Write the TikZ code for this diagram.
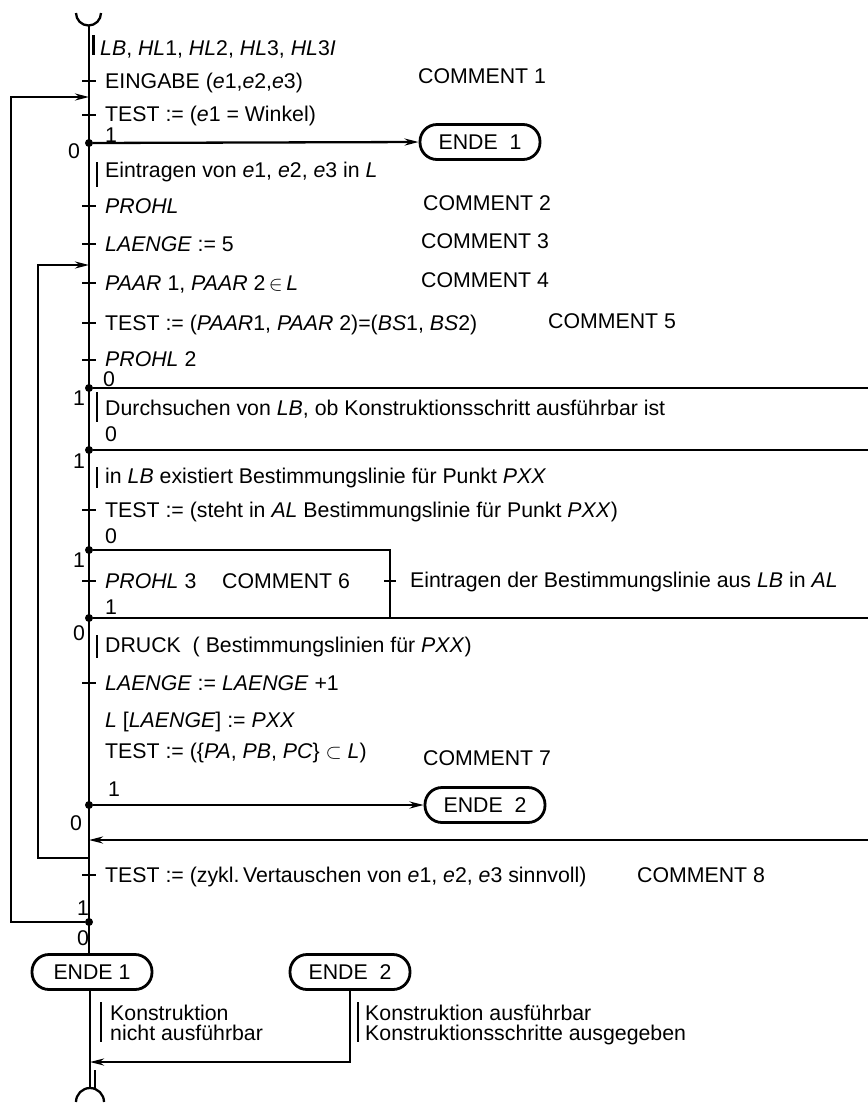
\documentclass[tikz,border=0pt]{standalone}
\usepackage{fontspec}
\setmainfont{Liberation Sans}
\usetikzlibrary{arrows.meta}
\frenchspacing
\begin{document}
\begin{tikzpicture}[x=1pt,y=-1pt,
  txt/.style={anchor=base west, inner sep=0pt, font=\fontsize{21.3}{24}\selectfont},
  flow/.style={line width=2.3pt},
  thin bar/.style={line width=2pt},
  endbox/.style={draw, line width=2.8pt, rounded corners=17pt, minimum width=120pt, minimum height=35pt, inner sep=0pt, font=\fontsize{21.3}{24}\selectfont},
  arr/.style={-{Stealth[length=14pt,width=7pt]}},
  dot/.style={circle, fill, inner sep=0pt, minimum size=8pt},
  tick/.style={line width=2pt}
]
\useasboundingbox (0,0) rectangle (868,1104);

% ---------- end nodes ----------
\node[endbox] (e1t) at (480,142) {ENDE\ \ 1};
\node[endbox] (e2t) at (485,805) {ENDE\ \ 2};
\node[endbox] (e1b) at (92,972) {ENDE\ 1};
\node[endbox] (e2b) at (350,972) {ENDE\ \ 2};

% ---------- coordinates and branch points ----------
\coordinate (top) at (89,25.5);
\coordinate (o2) at (89,97);
\coordinate (i2) at (89,265);
\node[dot] (b1) at (89,143) {};
\node[dot] (b2) at (89,388) {};
\node[dot] (b3) at (89,450) {};
\node[dot] (b4) at (89,550) {};
\node[dot] (b5) at (89,618) {};
\node[dot] (b6) at (89,805) {};
\coordinate (m7) at (89,840);
\coordinate (i1) at (89,858);
\node[dot] (b7) at (89,922) {};
\coordinate (m8) at (90,1062);
\coordinate (bot) at (90,1088);
\coordinate (r2) at (868,388);
\coordinate (r3) at (868,450);
\coordinate (r5) at (868,618);
\coordinate (r7) at (868,840);
\coordinate (bx1) at (390,550);
\coordinate (bx2) at (390,618);

% ---------- start / end symbols ----------
\draw[flow] (76,13) arc[start angle=180,end angle=360,radius=12.5pt];
\draw[flow] (76,1102) arc[start angle=180,end angle=0,radius=14pt];
\draw[flow] (93.5,35) -- (93.5,55);
\draw[flow] (95,1070) -- (95,1089);

% ---------- main line ----------
\draw[flow] (top) -- (89,955);
\draw[flow] (90,990) -- (bot);

% ---------- branches ----------
\draw[flow,arr] (b1) -- (e1t.west);
\draw[flow] (b2) -- (r2);
\draw[flow] (b3) -- (r3);
\draw[flow] (b4) -- (bx1) -- (bx2);
\draw[flow] (b5) -- (r5);
\draw[flow,arr] (b6) -- (e2t.west);
\draw[flow,arr] (r7) -- (m7);
\draw[flow,arr] (i1) -- (38,858) -- (38,265) -- (i2);
\draw[flow,arr] (b7) -- (11,922) -- (11,97) -- (o2);
\draw[flow,arr] (e2b.south) |- (m8);

% ---------- ticks ----------
\foreach \yy in {80.5,114.5,205.5,243.5,282.5,322.5,359.5,509.5,580.5,682.5,874.5}
  \draw[tick] (82,\yy) -- (96,\yy);
\draw[tick] (384,580.5) -- (396,580.5);

% ---------- bars ----------
\draw[thin bar] (97,162) -- (97,187);
\draw[thin bar] (97,392) -- (97,422);
\draw[thin bar] (97,467) -- (97,488);
\draw[thin bar] (97,635) -- (97,658);
\draw[thin bar] (101,1002) -- (101,1042);
\draw[thin bar] (358,1002) -- (358,1042);

% ---------- statements ----------
\node[txt] (s1) at (100,55) {\textit{LB}, \textit{HL}1, \textit{HL}2, \textit{HL}3, \textit{HL}3\textit{I}};
\node[txt] (s2) at (105,88) {EINGABE\ (\textit{e}1,\textit{e}2,\textit{e}3)};
\node[txt] (c1) at (418,83) {COMMENT 1};
\node[txt] (s3) at (105,121) {TEST := (\textit{e}1 = Winkel)};
\node[txt] (l1) at (105,142.5) {1};
\node[txt] (l0) at (68,158) {0};
\node[txt] (s4) at (105,177) {Eintragen von \textit{e}1, \textit{e}2, \textit{e}3 in \textit{L}};
\node[txt] (s5) at (105,213) {\textit{PROHL}};
\node[txt] (c2) at (423,210) {COMMENT 2};
\node[txt] (s6) at (105,251) {\textit{LAENGE}\ := 5};
\node[txt] (c3) at (421,248) {COMMENT 3};
\node[txt] (s7) at (105,290) {\textit{PAAR} 1,\ \textit{PAAR} 2\,$\in$\,\textit{L}};
\node[txt] (c4) at (421,287) {COMMENT 4};
\node[txt] (s8) at (105,330) {TEST := (\textit{PAAR}1, \textit{PAAR} 2)=(\textit{BS}1, \textit{BS}2)};
\node[txt] (c5) at (548,328) {COMMENT 5};
\node[txt] (s9) at (105,366) {\textit{PROHL} 2};
\node[txt] (l2) at (103,386.5) {0};
\node[txt] (l3) at (73,405) {1};
\node[txt] (s10) at (105,415) {Durchsuchen von \textit{LB}, ob Konstruktionsschritt ausführbar ist};
\node[txt] (l4) at (105,441) {0};
\node[txt] (l5) at (73,468) {1};
\node[txt] (s11) at (105,483) {in \textit{LB} existiert Bestimmungslinie für Punkt \textit{PXX}};
\node[txt] (s12) at (105,517) {TEST := (steht in \textit{AL} Bestimmungslinie für Punkt \textit{PXX})};
\node[txt] (l6) at (105,543) {0};
\node[txt] (l7) at (73,567) {1};
\node[txt] (s13) at (105,588) {\textit{PROHL} 3};
\node[txt] (c6) at (222,588) {COMMENT 6};
\node[txt] (s14) at (410,587) {Eintragen der Bestimmungslinie aus \textit{LB} in \textit{AL}};
\node[txt] (l8) at (105,614) {1};
\node[txt] (l9) at (73,640) {0};
\node[txt] (s15) at (105,652) {DRUCK\ \ ( Bestimmungslinien für \textit{PXX})};
\node[txt] (s16) at (105,690) {\textit{LAENGE} := \textit{LAENGE} +1};
\node[txt] (s17) at (105,727) {\textit{L} [\textit{LAENGE}] := \textit{PXX}};
\node[txt] (s18) at (105,758) {TEST := (\{\textit{PA}, \textit{PB}, \textit{PC}\} $\subset$ \textit{L})};
\node[txt] (c7) at (423,765) {COMMENT 7};
\node[txt] (l10) at (108,796) {1};
\node[txt] (l11) at (70,830) {0};
\node[txt] (s19) at (105,882) {TEST := (zykl.\,Vertauschen von \textit{e}1, \textit{e}2, \textit{e}3 sinnvoll)};
\node[txt] (c8) at (637,882) {COMMENT 8};
\node[txt] (l12) at (77,915) {1};
\node[txt] (l13) at (77,945) {0};
\node[txt] (k1) at (110,1020) {Konstruktion};
\node[txt] (k2) at (110,1040) {nicht ausführbar};
\node[txt] (k3) at (365,1020) {Konstruktion ausführbar};
\node[txt] (k4) at (365,1040) {Konstruktionsschritte ausgegeben};
\end{tikzpicture}
\end{document}
